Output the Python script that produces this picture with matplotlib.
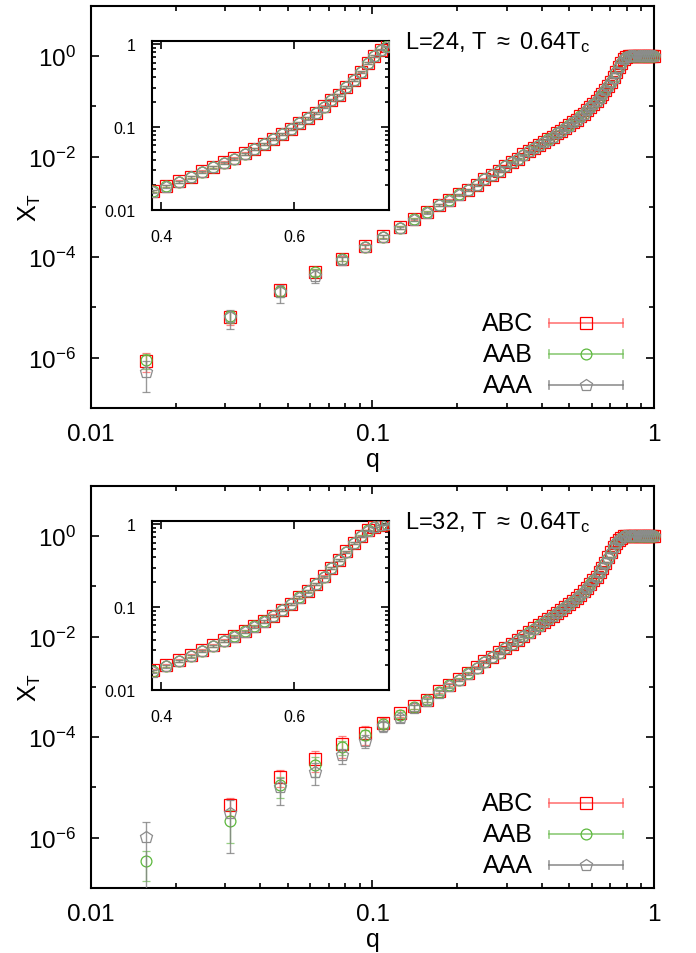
import numpy as np
import matplotlib
matplotlib.use('Agg')
import matplotlib.pyplot as plt
from matplotlib.ticker import FixedLocator, NullFormatter, FixedFormatter, LogLocator

plt.rcParams['font.family'] = ['Liberation Sans', 'DejaVu Sans']
plt.rcParams['mathtext.fontset'] = 'custom'
plt.rcParams['mathtext.rm'] = 'Liberation Sans'
plt.rcParams['mathtext.it'] = 'Liberation Sans:italic'
plt.rcParams['mathtext.bf'] = 'Liberation Sans:bold'

# ---------------- data ----------------
q = [0.015625, 0.03125, 0.046875, 0.0625, 0.078125, 0.09375, 0.109375, 0.125,
     0.140625, 0.15625, 0.171875, 0.1875, 0.203125, 0.21875, 0.234375, 0.25,
     0.265625, 0.28125, 0.296875, 0.3125, 0.328125, 0.34375, 0.359375, 0.375,
     0.390625, 0.40625, 0.421875, 0.4375, 0.453125, 0.46875, 0.484375, 0.5,
     0.515625, 0.53125, 0.546875, 0.5625, 0.578125, 0.59375, 0.609375, 0.625,
     0.640625, 0.65625, 0.671875, 0.6875, 0.703125, 0.71875, 0.734375, 0.75,
     0.765625, 0.78125, 0.796875, 0.8125, 0.828125, 0.84375, 0.859375, 0.875,
     0.890625, 0.90625, 0.921875, 0.9375, 0.953125, 0.96875, 0.984375, 1.0]

series_names = ['ABC', 'AAB', 'AAA']

# L = 24
L24_ABC = [8.7e-7, 6.5e-6, 2.2e-5, 5.1e-5, 9.3e-5, 1.66e-4, 2.6e-4, 3.9e-4,
           5.7e-4, 7.9e-4, 1.10e-3, 1.35e-3, 1.78e-3, 2.19e-3, 2.75e-3, 3.55e-3,
           4.27e-3, 5.25e-3, 6.46e-3, 7.8e-3, 9.1e-3, 0.0110, 0.0129, 0.0148,
           0.0168, 0.0193, 0.0220, 0.0248, 0.0291, 0.0328, 0.0374, 0.0418,
           0.0480, 0.0542, 0.0629, 0.0716, 0.0830, 0.0955, 0.112, 0.128,
           0.150, 0.178, 0.212, 0.248, 0.305, 0.374, 0.471, 0.594,
           0.729, 0.862, 0.946, 0.990, 1.0, 1.0, 1.0, 1.0,
           1.0, 1.0, 1.0, 1.0, 1.0, 1.0, 1.0, 1.0]
L24_AAB = [9.0e-7, 6.8e-6, 2.1e-5, 5.0e-5, 9.2e-5, 1.62e-4, 2.55e-4, 3.85e-4,
           5.6e-4, 7.8e-4, 1.08e-3, 1.34e-3, 1.76e-3, 2.17e-3, 2.73e-3, 3.52e-3,
           4.24e-3, 5.2e-3, 6.42e-3, 7.75e-3, 9.05e-3, 0.0109, 0.0128, 0.0147,
           0.0167, 0.0192, 0.0219, 0.0247, 0.0289, 0.0326, 0.0372, 0.0416,
           0.0478, 0.0540, 0.0626, 0.0713, 0.0827, 0.0951, 0.1115, 0.1275,
           0.1495, 0.1775, 0.2115, 0.2475, 0.304, 0.373, 0.470, 0.593,
           0.728, 0.861, 0.946, 0.990, 1.0, 1.0, 1.0, 1.0,
           1.0, 1.0, 1.0, 1.0, 1.0, 1.0, 1.0, 1.0]
L24_AAA = [5.3e-7, 6.3e-6, 2.0e-5, 4.3e-5, 8.7e-5, 1.58e-4, 2.5e-4, 3.8e-4,
           5.5e-4, 7.7e-4, 1.07e-3, 1.32e-3, 1.74e-3, 2.15e-3, 2.71e-3, 3.50e-3,
           4.22e-3, 5.17e-3, 6.38e-3, 7.7e-3, 9.0e-3, 0.0108, 0.0127, 0.0146,
           0.0166, 0.0191, 0.0218, 0.0246, 0.0288, 0.0325, 0.0370, 0.0414,
           0.0476, 0.0538, 0.0624, 0.0711, 0.0825, 0.0948, 0.1112, 0.1272,
           0.1492, 0.1772, 0.2112, 0.2472, 0.3035, 0.3725, 0.4695, 0.5925,
           0.7275, 0.8605, 0.9455, 0.990, 1.0, 1.0, 1.0, 1.0,
           1.0, 1.0, 1.0, 1.0, 1.0, 1.0, 1.0, 1.0]
L24_ABC_err = [3.5e-7, 2.0e-6, 5.0e-6, 8.0e-6, 1.0e-5, 1.4e-5, 1.8e-5, 2.2e-5,
               2.8e-5, 3.5e-5, 4.5e-5, 5.0e-5, 6.0e-5, 7.0e-5, 8.5e-5, 1.1e-4,
               1.3e-4, 1.6e-4, 1.9e-4, 2.3e-4, 2.7e-4, 3.2e-4, 3.8e-4, 4.4e-4,
               5.0e-4, 5.7e-4, 6.5e-4, 7.3e-4, 8.5e-4, 9.6e-4, 1.1e-3, 1.2e-3,
               1.4e-3, 1.6e-3, 1.8e-3, 2.1e-3, 2.4e-3, 2.8e-3, 3.2e-3, 3.7e-3,
               4.3e-3, 5.0e-3, 6.0e-3, 7.0e-3, 8.5e-3, 1.0e-2, 1.2e-2, 1.4e-2,
               1.5e-2, 1.4e-2, 1.0e-2, 5.0e-3, 1.0e-3, 5.0e-4, 2.0e-4, 1.0e-4,
               1.0e-4, 1.0e-4, 1.0e-4, 1.0e-4, 1.0e-4, 1.0e-4, 1.0e-4, 1.0e-4]
L24_AAB_err = [3.0e-7, 1.8e-6, 5.0e-6, 8.0e-6, 1.0e-5, 1.4e-5, 1.8e-5, 2.2e-5,
               2.8e-5, 3.5e-5, 4.5e-5, 5.0e-5, 6.0e-5, 7.0e-5, 8.5e-5, 1.1e-4,
               1.3e-4, 1.6e-4, 1.9e-4, 2.3e-4, 2.7e-4, 3.2e-4, 3.8e-4, 4.4e-4,
               5.0e-4, 5.7e-4, 6.5e-4, 7.3e-4, 8.5e-4, 9.6e-4, 1.1e-3, 1.2e-3,
               1.4e-3, 1.6e-3, 1.8e-3, 2.1e-3, 2.4e-3, 2.8e-3, 3.2e-3, 3.7e-3,
               4.3e-3, 5.0e-3, 6.0e-3, 7.0e-3, 8.5e-3, 1.0e-2, 1.2e-2, 1.4e-2,
               1.5e-2, 1.4e-2, 1.0e-2, 5.0e-3, 1.0e-3, 5.0e-4, 2.0e-4, 1.0e-4,
               1.0e-4, 1.0e-4, 1.0e-4, 1.0e-4, 1.0e-4, 1.0e-4, 1.0e-4, 1.0e-4]
L24_AAA_err = [3.2e-7, 2.6e-6, 7.5e-6, 1.3e-5, 1.3e-5, 1.6e-5, 2.0e-5, 2.4e-5,
               3.0e-5, 3.7e-5, 4.7e-5, 5.2e-5, 6.2e-5, 7.2e-5, 8.7e-5, 1.1e-4,
               1.3e-4, 1.6e-4, 1.9e-4, 2.3e-4, 2.7e-4, 3.2e-4, 3.8e-4, 4.4e-4,
               5.0e-4, 5.7e-4, 6.5e-4, 7.3e-4, 8.5e-4, 9.6e-4, 1.1e-3, 1.2e-3,
               1.4e-3, 1.6e-3, 1.8e-3, 2.1e-3, 2.4e-3, 2.8e-3, 3.2e-3, 3.7e-3,
               4.3e-3, 5.0e-3, 6.0e-3, 7.0e-3, 8.5e-3, 1.0e-2, 1.2e-2, 1.4e-2,
               1.5e-2, 1.4e-2, 1.0e-2, 5.0e-3, 1.0e-3, 5.0e-4, 2.0e-4, 1.0e-4,
               1.0e-4, 1.0e-4, 1.0e-4, 1.0e-4, 1.0e-4, 1.0e-4, 1.0e-4, 1.0e-4]

# L = 32
L32_ABC = [np.nan, 4.4e-6, 1.63e-5, 3.7e-5, 7.2e-5, 1.2e-4, 1.95e-4, 3.0e-4,
           4.2e-4, 5.6e-4, 8.2e-4, 1.11e-3, 1.44e-3, 1.90e-3, 2.46e-3, 3.25e-3,
           4.0e-3, 4.9e-3, 6.0e-3, 7.2e-3, 8.7e-3, 0.0105, 0.0123, 0.0145,
           0.0171, 0.0197, 0.0226, 0.0260, 0.0300, 0.0344, 0.0395, 0.0446,
           0.0513, 0.0589, 0.0677, 0.0790, 0.0930, 0.110, 0.132, 0.156,
           0.191, 0.235, 0.296, 0.374, 0.471, 0.594, 0.722, 0.846,
           0.929, 0.980, 1.0, 1.0, 1.0, 1.0, 1.0, 1.0,
           1.0, 1.0, 1.0, 1.0, 1.0, 1.0, 1.0, 1.0]
L32_AAB = [3.4e-7, 2.2e-6, 1.12e-5, 2.8e-5, 6.5e-5, 1.12e-4, 1.8e-4, 2.8e-4,
           4.0e-4, 5.4e-4, 7.9e-4, 1.07e-3, 1.40e-3, 1.85e-3, 2.40e-3, 3.18e-3,
           3.92e-3, 4.82e-3, 5.9e-3, 7.1e-3, 8.6e-3, 0.0103, 0.0121, 0.0143,
           0.0168, 0.0194, 0.0223, 0.0256, 0.0296, 0.0340, 0.0390, 0.0441,
           0.0508, 0.0583, 0.0671, 0.0783, 0.0922, 0.109, 0.131, 0.155,
           0.189, 0.233, 0.294, 0.372, 0.469, 0.592, 0.720, 0.845,
           0.928, 0.980, 1.0, 1.0, 1.0, 1.0, 1.0, 1.0,
           1.0, 1.0, 1.0, 1.0, 1.0, 1.0, 1.0, 1.0]
L32_AAA = [1.03e-6, 3.1e-6, 1.0e-5, 2.06e-5, 4.4e-5, 8.5e-5, 1.63e-4, 2.4e-4,
           3.8e-4, 5.2e-4, 7.6e-4, 1.04e-3, 1.37e-3, 1.81e-3, 2.36e-3, 3.13e-3,
           3.87e-3, 4.76e-3, 5.84e-3, 7.0e-3, 8.5e-3, 0.0102, 0.0120, 0.0141,
           0.0166, 0.0192, 0.0221, 0.0253, 0.0293, 0.0337, 0.0387, 0.0437,
           0.0504, 0.0579, 0.0667, 0.0778, 0.0917, 0.1085, 0.1305, 0.1545,
           0.1885, 0.2325, 0.2935, 0.3715, 0.4685, 0.5915, 0.7195, 0.8445,
           0.9275, 0.980, 1.0, 1.0, 1.0, 1.0, 1.0, 1.0,
           1.0, 1.0, 1.0, 1.0, 1.0, 1.0, 1.0, 1.0]
L32_ABC_err = [np.nan, 1.7e-6, 6.0e-6, 1.7e-5, 3.4e-5, 5.0e-5, 4.5e-5, 4.5e-5,
               5.0e-5, 5.5e-5, 6.5e-5, 8.0e-5, 9.0e-5, 1.1e-4, 1.3e-4, 1.6e-4,
               1.9e-4, 2.2e-4, 2.6e-4, 3.0e-4, 3.5e-4, 4.0e-4, 4.6e-4, 5.3e-4,
               6.0e-4, 6.8e-4, 7.6e-4, 8.6e-4, 9.8e-4, 1.1e-3, 1.3e-3, 1.4e-3,
               1.6e-3, 1.8e-3, 2.1e-3, 2.4e-3, 2.8e-3, 3.3e-3, 3.9e-3, 4.6e-3,
               5.5e-3, 6.7e-3, 8.3e-3, 1.0e-2, 1.2e-2, 1.4e-2, 1.5e-2, 1.3e-2,
               9.0e-3, 4.0e-3, 1.0e-3, 5.0e-4, 2.0e-4, 1.0e-4, 1.0e-4, 1.0e-4,
               1.0e-4, 1.0e-4, 1.0e-4, 1.0e-4, 1.0e-4, 1.0e-4, 1.0e-4, 1.0e-4]
L32_AAB_err = [2.0e-7, 1.4e-6, 5.0e-6, 1.2e-5, 2.0e-5, 2.5e-5, 3.0e-5, 3.5e-5,
               4.5e-5, 5.0e-5, 6.0e-5, 7.5e-5, 8.5e-5, 1.0e-4, 1.2e-4, 1.5e-4,
               1.8e-4, 2.1e-4, 2.5e-4, 2.9e-4, 3.4e-4, 3.9e-4, 4.5e-4, 5.2e-4,
               5.9e-4, 6.7e-4, 7.5e-4, 8.5e-4, 9.7e-4, 1.1e-3, 1.3e-3, 1.4e-3,
               1.6e-3, 1.8e-3, 2.1e-3, 2.4e-3, 2.8e-3, 3.3e-3, 3.9e-3, 4.6e-3,
               5.5e-3, 6.7e-3, 8.3e-3, 1.0e-2, 1.2e-2, 1.4e-2, 1.5e-2, 1.3e-2,
               9.0e-3, 4.0e-3, 1.0e-3, 5.0e-4, 2.0e-4, 1.0e-4, 1.0e-4, 1.0e-4,
               1.0e-4, 1.0e-4, 1.0e-4, 1.0e-4, 1.0e-4, 1.0e-4, 1.0e-4, 1.0e-4]
L32_AAA_err = [1.0e-6, 2.6e-6, 5.5e-6, 9.5e-6, 1.5e-5, 2.5e-5, 3.5e-5, 4.0e-5,
               4.8e-5, 5.3e-5, 6.3e-5, 7.8e-5, 8.8e-5, 1.05e-4, 1.25e-4, 1.55e-4,
               1.85e-4, 2.15e-4, 2.55e-4, 2.95e-4, 3.45e-4, 3.95e-4, 4.55e-4, 5.25e-4,
               5.95e-4, 6.75e-4, 7.55e-4, 8.55e-4, 9.75e-4, 1.1e-3, 1.3e-3, 1.4e-3,
               1.6e-3, 1.8e-3, 2.1e-3, 2.4e-3, 2.8e-3, 3.3e-3, 3.9e-3, 4.6e-3,
               5.5e-3, 6.7e-3, 8.3e-3, 1.0e-2, 1.2e-2, 1.4e-2, 1.5e-2, 1.3e-2,
               9.0e-3, 4.0e-3, 1.0e-3, 5.0e-4, 2.0e-4, 1.0e-4, 1.0e-4, 1.0e-4,
               1.0e-4, 1.0e-4, 1.0e-4, 1.0e-4, 1.0e-4, 1.0e-4, 1.0e-4, 1.0e-4]

panel_titles = ['L=24, T $\\approx$ 0.64T$_\\mathrm{c}$', 'L=32, T $\\approx$ 0.64T$_\\mathrm{c}$']
panels = [
    ([L24_ABC, L24_AAB, L24_AAA], [L24_ABC_err, L24_AAB_err, L24_AAA_err]),
    ([L32_ABC, L32_AAB, L32_AAA], [L32_ABC_err, L32_AAB_err, L32_AAA_err]),
]

main_xticks = [0.01, 0.1, 1]
main_xticklabels = ['0.01', '0.1', '1']
main_yticks = [1e-6, 1e-4, 1e-2, 1e0]
main_yticklabels = ['$10^{-6}$', '$10^{-4}$', '$10^{-2}$', '$10^{0}$']
main_yminor = [1e-7, 1e-5, 1e-3, 1e-1, 1e1]
inset_xticks = [0.4, 0.6]
inset_xticklabels = ['0.4', '0.6']
inset_yticks = [0.01, 0.1, 1]
inset_yticklabels = ['0.01', '0.1', '1']

# ---------------- style ----------------
colors = ['#ff0000', '#5cb83c', '#8c8c8c']
ecolors = [(1.0, 0.35, 0.35, 0.75), (0.45, 0.75, 0.35, 0.75), (0.5, 0.5, 0.5, 0.8)]
markers = ['s', 'o', 'p']
msizes = [8.0, 7.8, 8.6]

fig = plt.figure(figsize=(6.96, 9.54), dpi=100)
main_pos = [[0.1307, 0.5713, 0.8089, 0.4217], [0.1307, 0.0681, 0.8089, 0.4217]]
inset_pos = [[0.2184, 0.7791, 0.3401, 0.1768], [0.2184, 0.2760, 0.3401, 0.1768]]


def draw_series(ax, ys, errs, clip_markers):
    for i in range(3):
        cont = ax.errorbar(q, ys[i], yerr=errs[i], fmt=markers[i], ms=msizes[i],
                           mfc='none', mec=colors[i], mew=0.9, ecolor=ecolors[i],
                           elinewidth=1.0, capsize=3.0, capthick=1.0, zorder=3 + i)
        if not clip_markers:
            cont[0].set_clip_on(False)


for p in range(2):
    ax = fig.add_axes(main_pos[p])
    ys, errs = panels[p]
    draw_series(ax, ys, errs, clip_markers=False)
    ax.set_xscale('log')
    ax.set_yscale('log')
    ax.set_xlim(0.01, 1)
    ax.set_ylim(1e-7, 1e1)
    ax.xaxis.set_major_locator(FixedLocator(main_xticks))
    ax.xaxis.set_major_formatter(FixedFormatter(main_xticklabels))
    ax.xaxis.set_minor_locator(LogLocator(base=10, subs=np.arange(2, 10)))
    ax.xaxis.set_minor_formatter(NullFormatter())
    ax.yaxis.set_major_locator(FixedLocator(main_yticks))
    ax.yaxis.set_major_formatter(FixedFormatter(main_yticklabels))
    ax.yaxis.set_minor_locator(FixedLocator(main_yminor))
    ax.yaxis.set_minor_formatter(NullFormatter())
    ax.tick_params(which='both', direction='in', top=True, right=True, width=1.2)
    ax.tick_params(which='major', length=6, labelsize=17.5)
    ax.tick_params(which='minor', length=3.5)
    ax.tick_params(axis='x', which='major', pad=11)
    ax.tick_params(axis='y', which='major', pad=11)
    for s in ax.spines.values():
        s.set_linewidth(1.5)
    ax.set_xlabel('q', fontsize=18)
    ax.xaxis.set_label_coords(0.5, -0.127)
    ax.xaxis.label.set_va('center')
    ax.set_ylabel('X$_\\mathrm{T}$', fontsize=18)
    ax.yaxis.set_label_coords(-0.108, 0.5)
    ax.yaxis.label.set_va('center')
    ax.text(0.558, 0.91, panel_titles[p], transform=ax.transAxes, fontsize=17,
            ha='left', va='center')

    # legend (gnuplot style: label, horizontal error bar with marker)
    rows = [0.2113, 0.134, 0.057]
    for i in range(3):
        y0 = rows[i]
        ax.text(0.785, y0, series_names[i], transform=ax.transAxes, fontsize=18,
                ha='right', va='center')
        ax.plot([0.8135, 0.945], [y0, y0], transform=ax.transAxes,
                color=ecolors[i], lw=1.3, clip_on=False)
        for xe in (0.8135, 0.945):
            ax.plot([xe, xe], [y0 - 0.009, y0 + 0.009], transform=ax.transAxes,
                    color=ecolors[i], lw=1.2, clip_on=False)
        ax.plot([0.879], [y0], transform=ax.transAxes, marker=markers[i],
                ms=msizes[i], mfc='none', mec=colors[i], mew=0.9, ls='none',
                clip_on=False)

    # inset
    axi = fig.add_axes(inset_pos[p])
    draw_series(axi, ys, errs, clip_markers=True)
    axi.set_xscale('log')
    axi.set_yscale('log')
    axi.set_xlim(0.389, 0.80)
    axi.set_ylim(0.01, 1.1)
    axi.xaxis.set_major_locator(FixedLocator(inset_xticks))
    axi.xaxis.set_major_formatter(FixedFormatter(inset_xticklabels))
    axi.xaxis.set_minor_locator(FixedLocator([]))
    axi.yaxis.set_major_locator(FixedLocator(inset_yticks))
    axi.yaxis.set_major_formatter(FixedFormatter(inset_yticklabels))
    axi.yaxis.set_minor_locator(LogLocator(base=10, subs=np.arange(2, 10)))
    axi.yaxis.set_minor_formatter(NullFormatter())
    axi.tick_params(which='both', direction='in', top=True, right=True, width=1.2)
    axi.tick_params(which='major', length=6, labelsize=11.5)
    axi.tick_params(which='minor', length=3)
    axi.tick_params(axis='x', which='major', pad=14)
    axi.tick_params(axis='y', which='major', pad=12)
    for s in axi.spines.values():
        s.set_linewidth(1.5)

fig.savefig('out.png', dpi=100)
